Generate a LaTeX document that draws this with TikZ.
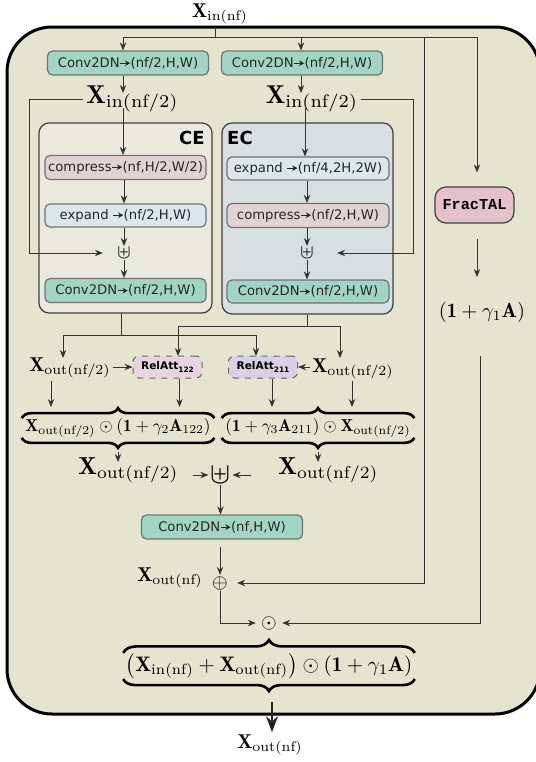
\documentclass[tikz,border=0pt]{standalone}
\usepackage{fontspec}
\newfontfamily\dvs{DejaVu Sans}
\newfontfamily\lmono{Liberation Mono}
\usetikzlibrary{arrows.meta,decorations.pathreplacing,calc}
\definecolor{outerfill}{HTML}{E5E4CF}
\definecolor{cefill}{HTML}{EAE9DD}
\definecolor{ecfill}{HTML}{D8DFE1}
\definecolor{convfill}{HTML}{A2D4C6}
\definecolor{cpink}{HTML}{E2D3D3}
\definecolor{eblue}{HTML}{DCE7EC}
\definecolor{rpink}{HTML}{E9D5E2}
\definecolor{rlav}{HTML}{D6D1E6}
\definecolor{fracfill}{HTML}{E5C1CC}
\newcommand{\sarr}{\tikz[baseline=-0.55ex]\draw[draw=black!85,solid,line width=0.45pt,-{Stealth[length=2.6pt,width=2.8pt]}] (0pt,0pt)--(5pt,0pt);}
\newcommand{\fs}[1]{\fontsize{#1}{#1}\selectfont}
\newcommand{\relsub}[1]{\raisebox{-1.1pt}{\fs{3.7}#1}}
\begin{document}
\begin{tikzpicture}[x=0.5pt,y=-0.5pt,
  conn/.style={draw=black!80,line width=0.5pt},
  arr/.style={conn,-{Stealth[length=4pt,width=3.2pt]}},
  bigarr/.style={draw=black!85,line width=1pt,-{Stealth[length=8pt,width=6pt]}},
  blk/.style={draw=black!55,line width=0.6pt,rounded corners=2.5pt,inner sep=0pt,
     font=\dvs\fs{6.6},text=black!85,minimum width=80.5pt,minimum height=12pt},
  conv/.style={blk,fill=convfill},
  group/.style={draw=black!75,line width=0.6pt,rounded corners=5pt,inner sep=0pt},
  lbl/.style={font=\dvs\bfseries\fs{9},inner sep=0pt},
  rel/.style={draw=black!60,dashed,line width=0.5pt,rounded corners=3pt,inner sep=0pt,
     font=\dvs\bfseries\fs{5.3},minimum width=34.5pt,minimum height=11pt},
  mth/.style={inner sep=1pt,scale=#1/10},
  brc/.style={draw=black,line width=1.3pt,decorate,decoration={brace,amplitude=#1}},
  brcm/.style={draw=black,line width=1.3pt,decorate,decoration={brace,mirror,amplitude=#1}},
  sym/.style={inner sep=0.5pt,scale=#1/10}
]
\useasboundingbox (0,0) rectangle (536,762);
% outer box
\draw[line width=1.5pt,fill=outerfill,rounded corners=22.5pt] (7,27) rectangle (540,714);

% top input
\node[mth=10] (xin) at (220,14) {$\mathbf{X}_{\mathrm{in(nf)}}$};
\coordinate (tj) at (215,37);
\coordinate (rv) at (424,37);
\coordinate (fa) at (477,37);
\coordinate (aL) at (123,37);
\coordinate (aR) at (301,37);

% first conv boxes
\node[conv] (convL) at (128,63) {Conv2DN\sarr(nf/2,H,W)};
\node[conv] (convR) at (302,63) {Conv2DN\sarr(nf/2,H,W)};

% X_in(nf/2) labels
\node[mth=12.9] (xinL) at (132.5,99) {$\mathbf{X}_{\mathrm{in(nf/2)}}$};
\node[mth=12.9] (xinR) at (312,99) {$\mathbf{X}_{\mathrm{in(nf/2)}}$};
\coordinate (pL1) at (123,93);
\coordinate (pL2) at (123,108);
\coordinate (pR1) at (301,93);
\coordinate (pR2) at (305,108);
\draw[arr] (convL.south -| pL1) -- (pL1);
\draw[arr] (convR.south -| pR1) -- (pR1);

% CE group
\node[group,fill=cefill,minimum width=86.5pt,minimum height=95pt] (ce) at (125.5,218) {};
\node[lbl] (celbl) at (192,138) {CE};
\node[blk,fill=cpink] (cmpL) at (125.5,167.5) {compress\sarr(nf,H/2,W/2)};
\node[blk,fill=eblue,minimum height=11.5pt] (expL) at (125.5,215.5) {expand \sarr(nf/2,H,W)};
\node[sym=10] (upL) at (124,253) {$\uplus$};
\node[conv] (cnvL) at (125.5,290.5) {Conv2DN\sarr(nf/2,H,W)};

% EC group
\node[group,fill=ecfill,minimum width=85.5pt,minimum height=95.5pt] (ec) at (307.5,218.5) {};
\node[lbl] (eclbl) at (240,138) {EC};
\node[blk,fill=eblue,minimum width=81pt,minimum height=11.5pt] (expR) at (308,168.5) {expand \sarr(nf/4,2H,2W)};
\node[blk,fill=cpink,minimum width=81pt] (cmpR) at (308,215.5) {compress\sarr(nf/2,H,W)};
\node[sym=10] (upR) at (307,253) {$\uplus$};
\node[conv,minimum width=81pt,minimum height=11.5pt] (cnvR) at (308,291.5) {Conv2DN\sarr(nf/2,H,W)};

% CE arrows
\draw[arr] (pL2) -- (pL2 |- cmpL.north);
\draw[arr] (upL |- cmpL.south) -- (upL |- expL.north);
\draw[arr] (upL |- expL.south) -- (upL.north);
\draw[arr] (upL.south) -- (upL |- cnvL.north);
% EC arrows
\draw[arr] (pR2) -- (pR2 |- expR.north);
\draw[arr] (upR |- expR.south) -- (upR |- cmpR.north);
\draw[arr] (upR |- cmpR.south) -- (upR.north);
\draw[arr] (upR.south) -- (upR |- cnvR.north);

% skip connections
\coordinate (fl) at (29,99);
\coordinate (fr) at (413,99);
\draw[arr,shorten >=6.5pt] (xinL.west) -- (fl) |- (upL.west);
\draw[arr,shorten >=11pt] (xinR.east) -- (fr) |- (upR.east);

% FracTAL branch
\node[draw=black!75,line width=0.6pt,rounded corners=5.5pt,fill=fracfill,minimum width=39.5pt,
  minimum height=18pt,inner sep=0pt,font=\lmono\bfseries\fs{7.6}] (frac) at (474.5,205) {FracTAL};
\node[mth=10.2] (gam) at (482,312) {$(\mathbf{1}+\gamma_1\mathbf{A})$};
\coordinate (fb) at (477,277);
\draw[arr,shorten <=7.5pt] (frac.south -| fb) -- (fb);

% top distribution
\draw[conn] (xin.south -| tj) -- (tj);
\draw[arr] (tj) -- (aL) -- (aL |- convL.north);
\draw[arr] (tj) -- (aR) -- (aR |- convR.north);
\draw[arr,shorten >=7pt] (tj) -- (fa) -- (fa |- frac.north);

% branches to relational attention
\coordinate (cj) at (121,335);
\coordinate (ej) at (307.5,326);
\coordinate (t1) at (63,358);
\coordinate (t2) at (256,356);
\coordinate (t3) at (178,356);
\coordinate (t4) at (340,358);
\draw[conn] (cj |- ce.south) -- (cj);
\draw[arr] (cj) -| (t1);
\draw[arr] (cj) -| (t2);
\draw[conn] (ej |- ec.south) -- (ej);
\draw[arr] (ej) -| (t3);
\draw[arr] (ej) -| (t4);

\node[mth=10] (xoL) at (70,368) {$\mathbf{X}_{\mathrm{out(nf/2)}}$};
\node[rel,fill=rpink] (r122) at (167.5,367) {RelAtt\relsub{122}};
\node[rel,fill=rlav] (r211) at (263,367) {RelAtt\relsub{211}};
\node[mth=10] (xoR) at (353,369) {$\mathbf{X}_{\mathrm{out(nf/2)}}$};
\draw[arr] (xoL.east |- r122.west) -- (r122.west);
\draw[arr] (xoR.west |- r211.east) -- (r211.east);

% arrows down to brace expressions
\coordinate (d1) at (51,407);
\coordinate (d2) at (179.5,407);
\coordinate (d3) at (272,407);
\coordinate (d4) at (352,407);
\draw[arr] (d1 |- 0,381) -- (d1);
\draw[arr] (r122.south -| d2) -- (d2);
\draw[arr] (r211.south -| d3) -- (d3);
\draw[arr] (d4 |- 0,381) -- (d4);

\node[mth=8.6,inner xsep=2pt,inner ysep=0pt] (exL) at (118,428) {$\mathbf{X}_{\mathrm{out(nf/2)}}\odot(\mathbf{1}+\gamma_2\mathbf{A}_{122})$};
\node[mth=8.6,inner xsep=2pt,inner ysep=0pt] (exR) at (318,428) {$(\mathbf{1}+\gamma_3\mathbf{A}_{211})\odot\mathbf{X}_{\mathrm{out(nf/2)}}$};
\draw[brc=5pt] (exL.north west) -- (exL.north east);
\draw[brcm=5pt] (exL.south west) -- (exL.south east);
\draw[brc=5pt] (exR.north west) -- (exR.north east);
\draw[brcm=5pt] (exR.south west) -- (exR.south east);

% merge
\node[mth=12.3] (xoL2) at (128.5,470) {$\mathbf{X}_{\mathrm{out(nf/2)}}$};
\node[mth=12.3] (xoR2) at (328.5,470) {$\mathbf{X}_{\mathrm{out(nf/2)}}$};
\node[sym=15] (upB) at (220.5,475) {$\uplus$};
\coordinate (e1) at (118,462);
\coordinate (e2) at (318,462);
\draw[arr] ($(exL.south)+(0,14)$) -- (e1);
\draw[arr] ($(exR.south)+(0,14)$) -- (e2);
\draw[arr,shorten <=5.5pt] (xoL2.east |- upB.west) -- (upB.west);
\draw[arr,shorten <=12pt] (xoR2.west |- upB.east) -- (upB.east);

\node[conv] (cv3) at (222,527) {Conv2DN\sarr(nf,H,W)};
\draw[arr] (upB.south) -- (upB |- cv3.north);

\node[sym=10] (oplus) at (220,583) {$\oplus$};
\node[mth=10] (xo) at (170,578) {$\mathbf{X}_{\mathrm{out(nf)}}$};
\draw[arr,shorten <=3.5pt] (cv3.south -| oplus) -- (oplus.north);
\draw[arr,shorten >=4pt] (tj) -- (rv) |- (oplus.east);

\node[sym=10] (odot) at (269,623) {$\odot$};
\coordinate (vr) at (480,356);
\draw[arr,shorten >=2pt] (oplus.south) |- (odot.west);
\draw[arr,shorten >=2pt] (vr) |- (odot.east);

% final expression
\node[mth=10.5,inner xsep=1pt,inner ysep=0pt] (exB) at (269,666) {$\big(\mathbf{X}_{\mathrm{in(nf)}}+\mathbf{X}_{\mathrm{out(nf)}}\big)\odot(\mathbf{1}+\gamma_1\mathbf{A})$};
\draw[brc=6.5pt] (exB.north west) -- (exB.north east);
\draw[brcm=6pt] (exB.south west) -- (exB.south east);

\node[mth=10] (xof) at (270,745) {$\mathbf{X}_{\mathrm{out(nf)}}$};
\coordinate (b1) at (272,702);
\draw[bigarr] (b1) -- (b1 |- xof.north);
\end{tikzpicture}
\end{document}
